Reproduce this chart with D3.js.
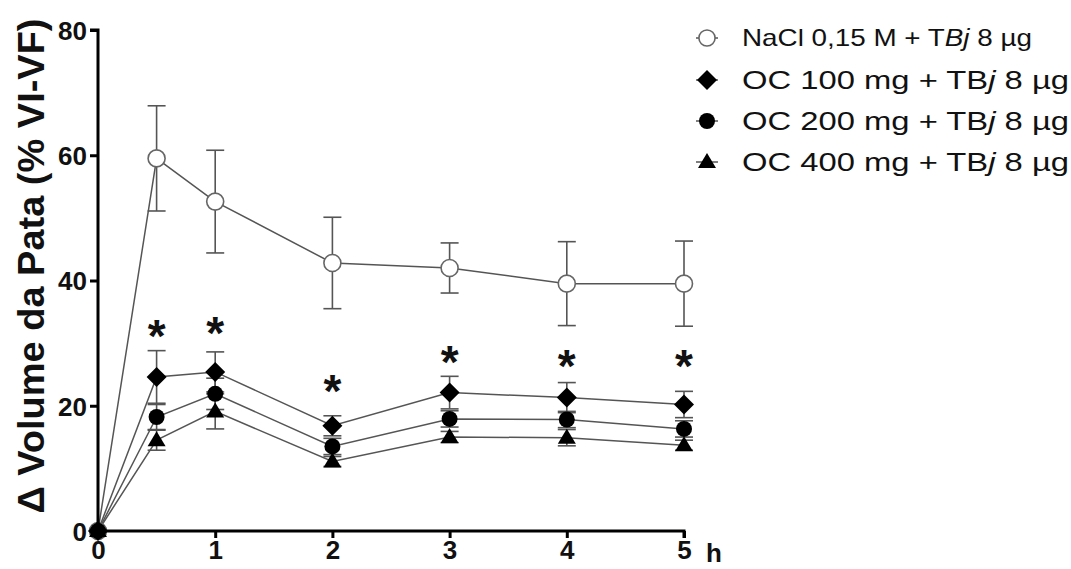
<!DOCTYPE html>
<html><head><meta charset="utf-8">
<script src="https://cdn.jsdelivr.net/npm/d3@7"></script>
<style>body{margin:0;background:#fff}svg{display:block}</style>
</head><body><svg id="c" width="1071" height="569"></svg>
<script>
const times = [0, 0.5, 1, 2, 3, 4, 5];
const xTicks = [0, 1, 2, 3, 4, 5];
const yTicks = [0, 20, 40, 60, 80];
const seriesNames = ["NaCl", "OC100", "OC200", "OC400"];
const naclMean = [0, 59.5, 52.6, 42.8, 42.0, 39.5, 39.5];
const naclErr  = [0, 8.4, 8.2, 7.3, 4.0, 6.7, 6.8];
const oc100Mean = [0, 24.6, 25.4, 16.8, 22.1, 21.3, 20.2];
const oc100Err  = [0, 4.2, 3.2, 1.6, 2.6, 2.4, 2.1];
const oc200Mean = [0, 18.2, 21.9, 13.5, 17.9, 17.8, 16.3];
const oc200Err  = [0, 2.0, 2.5, 1.3, 1.3, 1.3, 1.3];
const oc400Mean = [0, 14.5, 19.1, 11.1, 15.0, 14.9, 13.7];
const oc400Err  = [0, 1.6, 2.8, 0.8, 0.9, 1.3, 0.8];
const starTimes = [0.5, 1, 2, 3, 4, 5];
const starValues = [32.8, 33.2, 24.0, 28.6, 27.9, 27.9];
const legendLabels = [
  [["NaCl 0,15 M + T", false], ["Bj", true], [" 8 µg", false]],
  [["OC 100 mg + TB", false], ["j", true], [" 8 µg", false]],
  [["OC 200 mg + TB", false], ["j", true], [" 8 µg", false]],
  [["OC 400 mg + TB", false], ["j", true], [" 8 µg", false]]
];

const svg = d3.select("#c");
const x = d3.scaleLinear().domain([0, 5]).range([98, 684]);
const y = d3.scaleLinear().domain([0, 80]).range([531, 30]);
const font = "Arial, 'Liberation Sans', sans-serif";
const lineCol = "#555";

const series = [
  {name: seriesNames[0], mean: naclMean, err: naclErr, sym: "openCircle"},
  {name: seriesNames[1], mean: oc100Mean, err: oc100Err, sym: "diamond"},
  {name: seriesNames[2], mean: oc200Mean, err: oc200Err, sym: "circle"},
  {name: seriesNames[3], mean: oc400Mean, err: oc400Err, sym: "triangle"}
];

function drawSymbol(g, sym, cx, cy, k) {
  k = k || 1;
  if (sym === "openCircle") {
    g.append("circle").attr("cx", cx).attr("cy", cy).attr("r", 8.5 * k)
      .attr("fill", "#fff").attr("stroke", "#666").attr("stroke-width", 1.6);
  } else if (sym === "circle") {
    g.append("circle").attr("cx", cx).attr("cy", cy).attr("r", 8 * k).attr("fill", "#000");
  } else if (sym === "diamond") {
    const r = 10 * k;
    g.append("path").attr("d", `M${cx},${cy-r}L${cx+r},${cy}L${cx},${cy+r}L${cx-r},${cy}Z`).attr("fill", "#000");
  } else if (sym === "triangle") {
    g.append("path").attr("d", `M${cx},${cy-9*k}L${cx+9*k},${cy+6*k}L${cx-9*k},${cy+6*k}Z`).attr("fill", "#000");
  }
}

// error bars
const gErr = svg.append("g");
series.forEach(s => {
  times.forEach((t, i) => {
    if (s.err[i] <= 0) return;
    const cx = x(t), y1 = y(s.mean[i] + s.err[i]), y0 = y(s.mean[i] - s.err[i]);
    gErr.append("line").attr("x1", cx).attr("x2", cx).attr("y1", y1).attr("y2", y0)
      .attr("stroke", lineCol).attr("stroke-width", 1.6);
    [y1, y0].forEach(yy => gErr.append("line").attr("x1", cx - 9).attr("x2", cx + 9)
      .attr("y1", yy).attr("y2", yy).attr("stroke", lineCol).attr("stroke-width", 1.6));
  });
});

// lines
const line = d3.line().x((d, i) => x(times[i])).y(d => y(d));
series.forEach(s => {
  svg.append("path").attr("d", line(s.mean)).attr("fill", "none")
    .attr("stroke", lineCol).attr("stroke-width", 1.5);
});

// markers
series.forEach(s => {
  const g = svg.append("g");
  times.forEach((t, i) => drawSymbol(g, s.sym, x(t), y(s.mean[i])));
});

// axes
const yAxis = svg.append("g").attr("transform", "translate(98,0)")
  .call(d3.axisLeft(y).tickValues(yTicks).tickFormat(d3.format("d")).tickSize(8).tickPadding(3));
const xAxis = svg.append("g").attr("transform", "translate(0,531)")
  .call(d3.axisBottom(x).tickValues(xTicks).tickFormat(d3.format("d")).tickSize(7).tickPadding(3));
[yAxis, xAxis].forEach(a => {
  a.select(".domain").attr("stroke", "#000").attr("stroke-width", 3);
  a.selectAll(".tick line").attr("stroke", "#000").attr("stroke-width", 3);
  a.selectAll(".tick text").attr("fill", "#111").attr("font-family", font)
    .attr("font-size", 26).attr("font-weight", "bold");
});
yAxis.selectAll(".tick text").attr("dy", "0.36em");
yAxis.select(".domain").attr("d", "M-8,30H0V531H-8");
xAxis.select(".domain").attr("d", "M98,7V0H684V7");

svg.append("text").attr("x", 706).attr("y", 562).attr("font-family", font)
  .attr("font-size", 26).attr("font-weight", "bold").attr("fill", "#111").text("h");

svg.append("text").attr("transform", "translate(44,266) rotate(-90)")
  .attr("text-anchor", "middle").attr("font-family", font).attr("font-size", 36)
  .attr("textLength", 495).attr("lengthAdjust", "spacingAndGlyphs")
  .attr("font-weight", "bold").attr("fill", "#111").text("Δ Volume da Pata (% VI-VF)");

// asterisks
starTimes.forEach((t, i) => {
  svg.append("text").attr("x", x(t)).attr("y", y(starValues[i]) + 26)
    .attr("text-anchor", "middle").attr("font-family", font).attr("font-size", 46)
    .attr("font-weight", "bold").attr("fill", "#111").text("*");
});

// legend
const legY = [38, 80, 121, 162];
const legW = [290, 327, 327, 327];
series.forEach((s, i) => {
  const g = svg.append("g");
  const cy = legY[i];
  g.append("line").attr("x1", 696).attr("x2", 718).attr("y1", cy).attr("y2", cy)
    .attr("stroke", lineCol).attr("stroke-width", 1.5);
  drawSymbol(g, s.sym, 707, cy, i === 0 ? 0.95 : 1);
  const txt = g.append("text").attr("x", 742).attr("y", cy + (i === 0 ? 8 : 9)).attr("font-family", font)
    .attr("font-size", i === 0 ? 24 : 26).attr("fill", "#111")
    .attr("textLength", legW[i]).attr("lengthAdjust", "spacingAndGlyphs");
  legendLabels[i].forEach(p => txt.append("tspan").attr("font-style", p[1] ? "italic" : "normal").text(p[0]));
});
</script></body></html>
